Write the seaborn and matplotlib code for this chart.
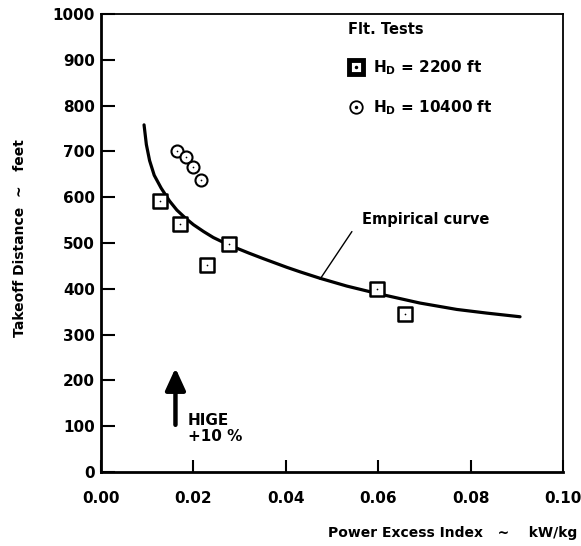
import numpy as np
import pandas as pd
import matplotlib
matplotlib.use("Agg")
import matplotlib.pyplot as plt
from matplotlib.lines import Line2D
import seaborn as sns

sns.set_style("ticks")
plt.rcParams.update({'font.family': 'DejaVu Sans', 'font.weight': 'bold',
                     'mathtext.default': 'bf', 'font.size': 11,
                     'text.color': 'k', 'axes.labelcolor': 'k', 'axes.edgecolor': 'k',
                     'xtick.color': 'k', 'ytick.color': 'k', 'axes.labelweight': 'bold'})

# flight test points
sq_x = [0.0128, 0.0171, 0.0229, 0.0276, 0.0598, 0.0658]   # H_D = 2200 ft
sq_y = [592, 541, 452, 498, 399, 346]
ci_x = [0.0164, 0.0184, 0.0198, 0.0216]                   # H_D = 10400 ft
ci_y = [702, 688, 665, 638]

# empirical curve, read point by point
curve_x = [0.0093, 0.0098, 0.0105, 0.0115, 0.0130, 0.0148, 0.0164, 0.0182, 0.0200,
           0.0222, 0.0243, 0.0276, 0.0320, 0.0351, 0.0402, 0.0431, 0.0474, 0.0532,
           0.0597, 0.0690, 0.0770, 0.0835, 0.0907]
curve_y = [758, 715, 680, 648, 620, 592, 572, 555, 540,
           525, 512, 496, 478, 466, 447, 437, 423, 406,
           390, 369, 355, 347, 339]

x_ticks = [0.00, 0.02, 0.04, 0.06, 0.08, 0.10]
y_ticks = list(range(0, 1001, 100))

curve = pd.DataFrame({'x': curve_x, 'y': curve_y})
sq = pd.DataFrame({'x': sq_x, 'y': sq_y})
ci = pd.DataFrame({'x': ci_x, 'y': ci_y})

fig = plt.figure(figsize=(5.81, 5.46), dpi=100)
ax = fig.add_axes([0.174, 0.1355, 0.795, 0.8388])

sns.lineplot(data=curve, x='x', y='y', sort=False, color='k', lw=2.3, ax=ax)
sns.scatterplot(data=sq, x='x', y='y', marker='s', s=100, facecolor='white',
                edgecolor='k', linewidth=1.8, ax=ax, zorder=3)
sns.scatterplot(data=ci, x='x', y='y', marker='o', s=75, facecolor='white',
                edgecolor='k', linewidth=1.5, ax=ax, zorder=3)
# little centre dots
sns.scatterplot(data=pd.concat([sq, ci]), x='x', y='y', marker='.', s=6,
                color='k', linewidth=0, ax=ax, zorder=4)

# leader line for the curve label
ax.plot([0.0543, 0.0474], [525, 421], color='k', lw=1)
ax.text(0.0565, 552, "Empirical curve", fontsize=10.5, va='center', ha='left')

# HIGE arrow
ax.annotate('', xy=(0.0161, 227), xytext=(0.0161, 103),
            arrowprops=dict(arrowstyle='-|>,head_width=0.55,head_length=1.2',
                            lw=3.2, color='k', shrinkA=0, shrinkB=0))
ax.text(0.0188, 129, "HIGE\n+10 %", fontsize=11, va='top', ha='left', linespacing=1.1)

ax.set_xlim(0, 0.10)
ax.set_ylim(0, 1000)
ax.set_xticks(x_ticks)
ax.set_xticklabels([f"{t:.2f}" for t in x_ticks])
ax.set_yticks(y_ticks)
ax.tick_params(axis='y', direction='in', length=10, width=1.5, pad=4.5, labelsize=11)
ax.tick_params(axis='x', direction='in', length=9, width=1.5, pad=14, labelsize=11)
for side in ['left', 'bottom']:
    ax.spines[side].set_linewidth(2)
for side in ['top', 'right']:
    ax.spines[side].set_linewidth(1.3)

ax.set_xlabel("Power Excess Index   ~    kW/kg", fontsize=10, ha='right')
ax.xaxis.set_label_coords(1.03, -0.118)
ax.set_ylabel("Takeoff Distance  ~   feet", fontsize=10)
ax.yaxis.set_label_coords(-0.16, 0.511)

h_sq = (Line2D([], [], marker='s', ls='', ms=10, mfc='white', mec='k', mew=3.5),
        Line2D([], [], marker='.', ls='', ms=3, color='k'))
h_ci = (Line2D([], [], marker='o', ls='', ms=9, mfc='white', mec='k', mew=1.3),
        Line2D([], [], marker='.', ls='', ms=3, color='k'))
leg = ax.legend([h_sq, h_ci], ["H$_D$ = 2200 ft", "H$_D$ = 10400 ft"],
                title="Flt. Tests", loc='upper left', bbox_to_anchor=(0.505, 1.013),
                frameon=False, fontsize=11, labelspacing=1.4, handlelength=1.0,
                handletextpad=0.6, alignment='left',
                title_fontproperties={'weight': 'bold', 'size': 10.5})

fig.savefig("out.png", dpi=100)
